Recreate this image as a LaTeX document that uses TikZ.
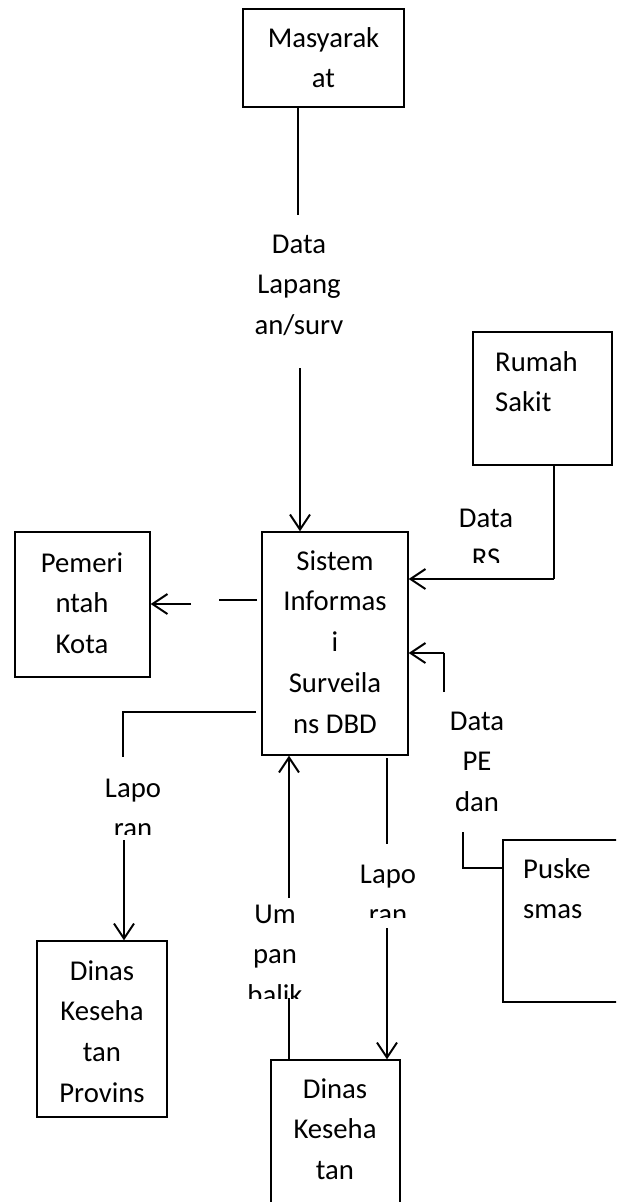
\documentclass[tikz,border=0pt]{standalone}
\usepackage{fontspec}
\setmainfont{Carlito}
\usetikzlibrary{arrows.meta}
\tikzset{
  box/.style={draw=black, line width=1.3pt, inner sep=0pt},
  txt/.style={font=\fontsize{28.7}{40.7}\selectfont, inner sep=0pt, align=center, anchor=north},
  ltxt/.style={font=\fontsize{28.7}{40.7}\selectfont, inner sep=0pt, align=left, anchor=north west},
  thinln/.style={line width=1.1pt},
  thickln/.style={line width=2pt},
  arr/.style={thickln, -{Straight Barb[length=15pt,width=20pt]}},
}
\begin{document}
\begin{tikzpicture}[x=1pt,y=-1pt]
\clip (0,0) rectangle (616,1202);
\fill[white] (0,0) rectangle (616,1202);

% boxes
\node[box, minimum width=161pt, minimum height=98pt] (masy) at (323.5,58) {};
\node[box, minimum width=139pt, minimum height=133pt] (rs) at (542.5,398.5) {};
\node[box, minimum width=135pt, minimum height=145pt] (pem) at (82.5,604.5) {};
\node[box, minimum width=146pt, minimum height=223pt] (sis) at (335,643.5) {};
\node[box, minimum width=130pt, minimum height=176pt] (prov) at (102,1029) {};
\node[box, minimum width=147pt, minimum height=162pt] (pusk) at (576.5,921) {};
\node[box, minimum width=129pt, minimum height=200pt] (kota) at (335.5,1160) {};

% box texts
\node[txt] (masyt) at (323.5,18.5) {\strut Masyarak\\at};
\node[ltxt] (rst) at (495,342.5) {\strut Rumah\\Sakit};
\node[txt] (pemt) at (82,543.5) {\strut Pemeri\\ntah\\Kota};
\node[txt] (sist) at (335,541.5) {\strut Sistem\\Informas\\i\\Surveila\\ns DBD};
\node[txt] (provt) at (102,951.5) {\strut Dinas\\Keseha\\tan\\Provins};
\node[ltxt] (puskt) at (523,849.5) {\strut Puske\\smas};
\node[txt] (kotat) at (335,1069.5) {\strut Dinas\\Keseha\\tan};

% connector labels
\node[txt] (lapl) at (299,224.5) {\strut Data\\Lapang\\an/surv};
\begin{scope}
  \clip (430,490) rectangle (545,562);
  \node[txt] (rsl) at (486,498.5) {\strut Data\\RS};
\end{scope}
\node[txt] (pel) at (477,701.5) {\strut Data\\PE\\dan};
\begin{scope}
  \clip (80,760) rectangle (190,834);
  \node[txt] (lapol) at (133,768.5) {\strut Lapo\\ran};
\end{scope}
\begin{scope}
  \clip (340,845) rectangle (440,917);
  \node[txt] (lapor) at (388,854.5) {\strut Lapo\\ran};
\end{scope}
\begin{scope}
  \clip (225,885) rectangle (325,998);
  \node[txt] (umpl) at (275,894.5) {\strut Um\\pan\\balik};
\end{scope}

% coordinates
\coordinate (m1) at (298,215);
\coordinate (m2) at (300,368);
\coordinate (r1) at (554,579);
\coordinate (p1) at (257,600);
\coordinate (p2) at (219,600);
\coordinate (p3) at (191,604);
\coordinate (q1) at (256,712);
\coordinate (q2) at (123,712);
\coordinate (q3) at (123,757);
\coordinate (q4) at (124,840);
\coordinate (u1) at (289,998);
\coordinate (u2) at (289,898);
\coordinate (l0) at (387,758);
\coordinate (l1) at (387,844);
\coordinate (l2) at (387,928);
\coordinate (e1) at (463,868);
\coordinate (e2) at (463,832);
\coordinate (e3) at (444,692);
\coordinate (e4) at (444,653);

% connectors
\draw[thinln] (masy.south -| m1) -- (m1);
\draw[arr] (m2) -- (m2 |- sis.north);

\draw[thinln] (rs.south -| r1) -- (r1);
\draw[arr] (r1) -- (r1 -| sis.east);

\draw[thinln] (p1) -- (p2);
\draw[arr] (p3) -- (p3 -| pem.east);

\draw[thinln] (q1) -- (q2) -- (q3);
\draw[arr] (q4) -- (q4 |- prov.north);

\draw[thinln] (kota.north -| u1) -- (u1);
\draw[arr] (u2) -- (u2 |- sis.south);

\draw[thickln] (l0) -- (l1);
\draw[arr] (l2) -- (l2 |- kota.north);

\draw[thinln] (pusk.west |- e1) -- (e1) -- (e2);
\draw[thinln] (e3) -- (e4);
\draw[arr] (e4) -- (e4 -| sis.east);
\end{tikzpicture}
\end{document}
